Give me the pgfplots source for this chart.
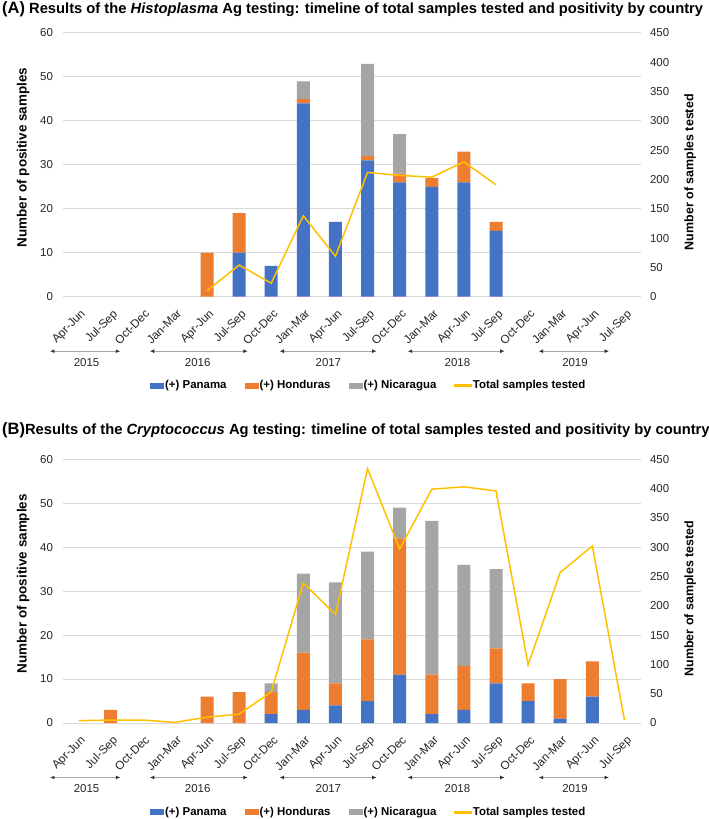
\documentclass[border=0pt]{standalone}
\usepackage{pgfplots}
\pgfplotsset{compat=1.18}
\usepackage{pgfplotstable}
\usepackage{fontspec}
\setmainfont{Liberation Sans}
\usetikzlibrary{arrows.meta}
\definecolor{cpan}{HTML}{4472C4}
\definecolor{chon}{HTML}{ED7D31}
\definecolor{cnic}{HTML}{A5A5A5}
\definecolor{ctot}{HTML}{FFC000}
\definecolor{cgrid}{HTML}{D9D9D9}
\definecolor{carrow}{HTML}{A6A6A6}
\definecolor{ctxt}{HTML}{262626}

% Panel A: positive samples by country (stacked bars)
\pgfplotstableread{
idx pan hon nic
0 0 0 0
1 0 0 0
2 0 0 0
3 0 0 0
4 0 10 0
5 10 9 0
6 7 0 0
7 44 1 4
8 17 0 0
9 31 1 21
10 26 2 9
11 25 2 0
12 26 7 0
13 15 2 0
14 0 0 0
15 0 0 0
16 0 0 0
17 0 0 0
}\histbars
\pgfplotstableread{
idx tot
4 10
5 54
6 23
7 138
8 69
9 212
10 207
11 204
12 230
13 191
}\histtot

% Panel B
\pgfplotstableread{
idx pan hon nic
0 0 0 0
1 0 3 0
2 0 0 0
3 0 0 0
4 0 6 0
5 0 7 0
6 2 5 2
7 3 13 18
8 4 5 23
9 5 14 20
10 11 31 7
11 2 9 35
12 3 10 23
13 9 8 18
14 5 4 0
15 1 9 0
16 6 8 0
17 0 0 0
}\cryptbars
\pgfplotstableread{
idx tot
0 4
1 5
2 5
3 1
4 10
5 15
6 53
7 239
8 185
9 434
10 297
11 399
12 403
13 396
14 99
15 257
16 302
17 5
}\crypttot

\tikzset{
  yeararrow/.style={line width=1.3bp, carrow, {Latex[length=4.5bp,width=4bp,color=black!80]}-{Latex[length=4.5bp,width=4bp,color=black!80]}},
  yearlab/.style={font=\fontsize{11.5}{13}\selectfont, text=ctxt},
}
\pgfplotsset{
  common/.style={
    scale only axis, width=578bp, height=263.7bp,
    xmin=-0.5, xmax=17.5,
    major tick length=0pt,
    axis line style={draw=none},
    clip=false,
    /pgf/number format/assume math mode=true,
    yticklabel style={font=\fontsize{11.5}{13}\selectfont, text=ctxt},
  },
  leftaxis/.style={
    common,
    ymin=0, ymax=60, ytick={0,10,...,60},
    ymajorgrids, grid style={cgrid, line width=1bp},
    xtick={0,...,17},
    xticklabels={Apr-Jun,Jul-Sep,Oct-Dec,Jan-Mar,Apr-Jun,Jul-Sep,Oct-Dec,Jan-Mar,Apr-Jun,Jul-Sep,Oct-Dec,Jan-Mar,Apr-Jun,Jul-Sep,Oct-Dec,Jan-Mar,Apr-Jun,Jul-Sep},
    xticklabel style={rotate=45, anchor=north east, font=\fontsize{11.8}{13}\selectfont, text=ctxt, xshift=-4bp, yshift=-6bp},
    yticklabel style={xshift=-6bp},
    ybar stacked, bar width=13bp,
    ylabel={Number of positive samples},
    ylabel style={at={(axis description cs:-0.0683,0.528)}, anchor=center, font=\bfseries\fontsize{13.5}{15}\selectfont},
    legend columns=4,
    legend cell align=left,
    legend style={at={(axis description cs:0.529,-0.337)}, anchor=center, draw=none, fill=none,
      font=\bfseries\fontsize{11.5}{13}\selectfont,
      nodes={inner sep=1bp},
      /tikz/every even column/.append style={column sep=17bp}},
  },
  rightaxis/.style={
    common,
    ymin=0, ymax=450, ytick={0,50,...,450},
    hide x axis,
    axis y line*=right,
    yticklabel style={xshift=6bp},
    ylabel={Number of samples tested},
    ylabel style={at={(axis description cs:1.0857,0.472)}, anchor=center, font=\bfseries\fontsize{12.5}{14}\selectfont},
  },
  sq/.style={fill=#1, draw=none, legend image code/.code={\fill[#1] (0bp,-3bp) rectangle (14bp,3bp);}},
  totleg/.style={legend image code/.code={\fill[ctot] (0bp,-0.9bp) rectangle (17bp,0.9bp);}},
}

\begin{document}
\begin{tikzpicture}
\useasboundingbox (0,0) rectangle (709bp,819bp);

% ---------------- Panel A ----------------
\node[anchor=west, inner sep=0pt, font=\bfseries\fontsize{14.8}{16}\selectfont] at (2bp,810bp)
  {{\fontsize{16.5}{17}\selectfont(A)} Results of the \textit{Histoplasma} Ag testing: timeline of total samples tested and positivity by country};

\begin{axis}[leftaxis, at={(62.5bp,522.3bp)}, anchor=south west]
\addplot[sq=cpan] table[x=idx,y=pan] {\histbars};
\addlegendentry{(+) Panama}
\addplot[sq=chon] table[x=idx,y=hon] {\histbars};
\addlegendentry{(+) Honduras}
\addplot[sq=cnic] table[x=idx,y=nic] {\histbars};
\addlegendentry{(+) Nicaragua}
\addlegendimage{totleg}
\addlegendentry{Total samples tested}
\draw[yeararrow] (axis cs:-0.89,-12.4) -- (axis cs:1.30,-12.4);
\draw[yeararrow] (axis cs:2.22,-12.4) -- (axis cs:5.27,-12.4);
\draw[yeararrow] (axis cs:6.26,-12.4) -- (axis cs:9.28,-12.4);
\draw[yeararrow] (axis cs:10.25,-12.4) -- (axis cs:13.27,-12.4);
\draw[yeararrow] (axis cs:14.33,-12.4) -- (axis cs:16.52,-12.4);
\node[yearlab] at (axis cs:0.25,-15.0) {2015};
\node[yearlab] at (axis cs:3.71,-15.0) {2016};
\node[yearlab] at (axis cs:7.78,-15.0) {2017};
\node[yearlab] at (axis cs:11.8,-15.0) {2018};
\node[yearlab] at (axis cs:15.46,-15.0) {2019};
\end{axis}
\begin{axis}[rightaxis, at={(62.5bp,522.3bp)}, anchor=south west]
\addplot[ctot, line width=1.5bp, mark=none] table[x=idx,y=tot] {\histtot};
\end{axis}

% ---------------- Panel B ----------------
\node[anchor=west, inner sep=0pt, font=\bfseries\fontsize{14.8}{16}\selectfont] at (2bp,389bp)
  {{\fontsize{16.5}{17}\selectfont(B)}Results of the \textit{Cryptococcus} Ag testing: timeline of total samples tested and positivity by country};

\begin{axis}[leftaxis, at={(62.5bp,96bp)}, anchor=south west]
\addplot[sq=cpan] table[x=idx,y=pan] {\cryptbars};
\addlegendentry{(+) Panama}
\addplot[sq=chon] table[x=idx,y=hon] {\cryptbars};
\addlegendentry{(+) Honduras}
\addplot[sq=cnic] table[x=idx,y=nic] {\cryptbars};
\addlegendentry{(+) Nicaragua}
\addlegendimage{totleg}
\addlegendentry{Total samples tested}
\draw[yeararrow] (axis cs:-0.89,-12.4) -- (axis cs:1.30,-12.4);
\draw[yeararrow] (axis cs:2.22,-12.4) -- (axis cs:5.27,-12.4);
\draw[yeararrow] (axis cs:6.26,-12.4) -- (axis cs:9.28,-12.4);
\draw[yeararrow] (axis cs:10.25,-12.4) -- (axis cs:13.27,-12.4);
\draw[yeararrow] (axis cs:14.33,-12.4) -- (axis cs:16.52,-12.4);
\node[yearlab] at (axis cs:0.25,-15.0) {2015};
\node[yearlab] at (axis cs:3.71,-15.0) {2016};
\node[yearlab] at (axis cs:7.78,-15.0) {2017};
\node[yearlab] at (axis cs:11.8,-15.0) {2018};
\node[yearlab] at (axis cs:15.46,-15.0) {2019};
\end{axis}
\begin{axis}[rightaxis, at={(62.5bp,96bp)}, anchor=south west]
\addplot[ctot, line width=1.5bp, mark=none] table[x=idx,y=tot] {\crypttot};
\end{axis}
\end{tikzpicture}
\end{document}
